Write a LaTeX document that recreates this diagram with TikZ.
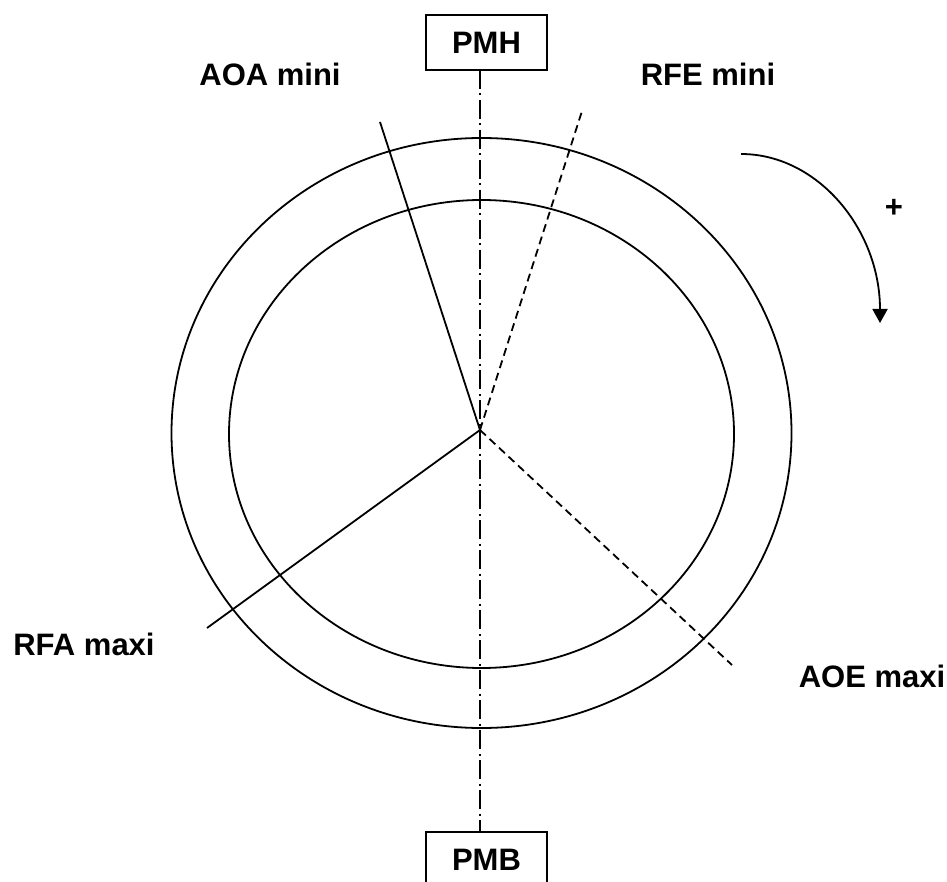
\documentclass[tikz,border=0pt]{standalone}
\usepackage{fontspec}
\setmainfont{Liberation Sans}
\usetikzlibrary{arrows.meta}
\begin{document}
\begin{tikzpicture}[x=1pt,y=-1pt,
  lbl/.style={font=\fontsize{31}{31}\selectfont\bfseries, inner sep=0pt},
  pmbox/.style={draw, line width=1.8pt, minimum width=121pt, minimum height=55pt, inner sep=0pt, font=\fontsize{31}{31}\selectfont\bfseries},
  ring/.style={line width=1.8pt},
  solidray/.style={line width=1.8pt},
  dashray/.style={line width=1.8pt, dash pattern=on 8pt off 5pt},
  axis/.style={line width=1.8pt, dash pattern=on 19pt off 4.5pt on 2pt off 4.5pt}]
\useasboundingbox (0,0) rectangle (947,882);
% rings
\draw[ring] (481.5,433) ellipse [x radius=310, y radius=295];
\draw[ring] (481.5,434) ellipse [x radius=252.5, y radius=234];
% boxes
\node[pmbox] (pmh) at (486.5,42.5) {PMH};
\node[pmbox] (pmb) at (486.5,859.5) {PMB};
% centre and ray ends
\coordinate (c) at (480,430);
\coordinate (aoa) at (380,122);
\coordinate (rfe) at (582,111);
\coordinate (rfa) at (207,628);
\coordinate (aoe) at (732,665);
\draw[axis] (480,70) -- (480,832);
\draw[solidray] (c) -- (aoa);
\draw[solidray] (c) -- (rfa);
\draw[dashray] (c) -- (rfe);
\draw[dashray] (c) -- (aoe);
% labels
\node[lbl, anchor=base] (laoa) at (270,86) {AOA mini};
\node[lbl, anchor=base] (lrfe) at (708,86) {RFE mini};
\node[lbl, anchor=base] (lrfa) at (84,655) {RFA maxi};
\node[lbl, anchor=base] (laoe) at (872,687) {AOE maxi};
% rotation arrow
\coordinate (arrs) at (741,154);
\draw[line width=1.8pt, -{Triangle[length=14pt,width=15pt]}] (arrs) arc [start angle=-90, end angle=0, x radius=139, y radius=169];
\node[lbl] (plus) at (894,208) {+};
\end{tikzpicture}
\end{document}
